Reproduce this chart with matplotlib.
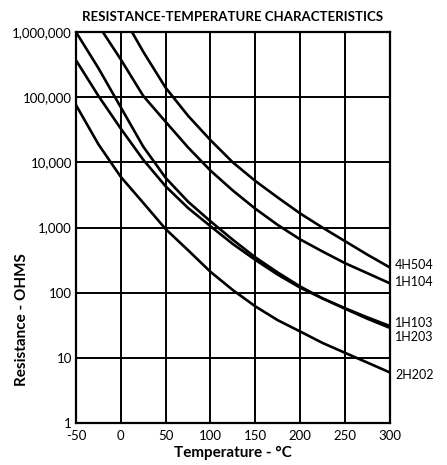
import matplotlib.pyplot as plt
import numpy as np

# values (temperature in deg C, resistance in ohms)
t_4h504 = [12.5, 25, 50, 75, 100, 125, 150, 175, 200, 225, 250, 275, 300]
r_4h504 = [1.0e6, 5.0e5, 1.4e5, 5.2e4, 2.2e4, 1.0e4, 5.2e3, 2.9e3, 1.65e3, 1.0e3, 620, 385, 245]

t_1h104 = [-20, 0, 25, 50, 75, 100, 125, 150, 175, 200, 225, 250, 275, 300]
r_1h104 = [1.0e6, 3.8e5, 1.05e5, 4.2e4, 1.7e4, 7.5e3, 3.7e3, 1.95e3, 1.1e3, 660, 430, 285, 200, 140]

t_std = [-50, -25, 0, 25, 50, 75, 100, 125, 150, 175, 200, 225, 250, 275, 300]
r_1h203 = [1.0e6, 2.8e5, 7.0e4, 1.75e4, 5.8e3, 2.5e3, 1.25e3, 650, 350, 205, 125, 82, 57, 40, 29]
r_1h103 = [3.7e5, 1.05e5, 3.3e4, 1.1e4, 4.3e3, 2.0e3, 1.05e3, 560, 320, 190, 120, 82, 58, 42, 31]
r_2h202 = [7.6e4, 1.9e4, 6.0e3, 2.4e3, 950, 450, 210, 110, 62, 38, 25.5, 17, 12, 8.5, 6]

curve_names = ["4H504", "1H104", "1H103", "1H203", "2H202"]
label_y = [270, 147, 35, 21, 5.5]

x_ticks = [-50, 0, 50, 100, 150, 200, 250, 300]
y_ticks = [1, 10, 100, 1000, 10000, 100000, 1000000]
y_ticklabels = ["1", "10", "100", "1,000", "10,000", "100,000", "1,000,000"]

plt.rcParams['font.family'] = ['Lato', 'DejaVu Sans']

fig = plt.figure(figsize=(4.47, 4.65), dpi=100)
ax = fig.add_axes([0.170, 0.090, 0.702, 0.841])

series = [(t_4h504, r_4h504), (t_1h104, r_1h104), (t_std, r_1h103),
          (t_std, r_1h203), (t_std, r_2h202)]
for t, r in series:
    ax.plot(t, r, color='black', linewidth=1.9, solid_capstyle='butt')

ax.set_yscale('log')
ax.set_xlim(-50, 300)
ax.set_ylim(1, 1e6)
ax.set_xticks(x_ticks)
ax.set_xticklabels([str(v) for v in x_ticks], fontsize=9.5)
ax.set_yticks(y_ticks)
ax.set_yticklabels(y_ticklabels, fontsize=9.5)
ax.yaxis.set_minor_locator(plt.NullLocator())
ax.tick_params(axis='y', length=0, pad=3)
ax.tick_params(axis='x', length=0, pad=5)
ax.grid(True, color='black', linewidth=1.4)
for sp in ax.spines.values():
    sp.set_linewidth(1.6)

for name, yv in zip(curve_names, label_y):
    ax.text(306, yv, name, fontsize=9, va='center', ha='left', clip_on=False)

ax.set_xlabel("Temperature - °C", fontsize=11, fontweight='bold', labelpad=3)
fig.text(22 / 447, 1 - 320 / 465, "Resistance - OHMS", fontsize=11,
         fontweight='bold', rotation=90, ha='center', va='center')
ax.set_title("RESISTANCE-TEMPERATURE CHARACTERISTICS", fontsize=9.5,
             fontweight='bold', pad=8)

fig.savefig("out.png", dpi=100)
